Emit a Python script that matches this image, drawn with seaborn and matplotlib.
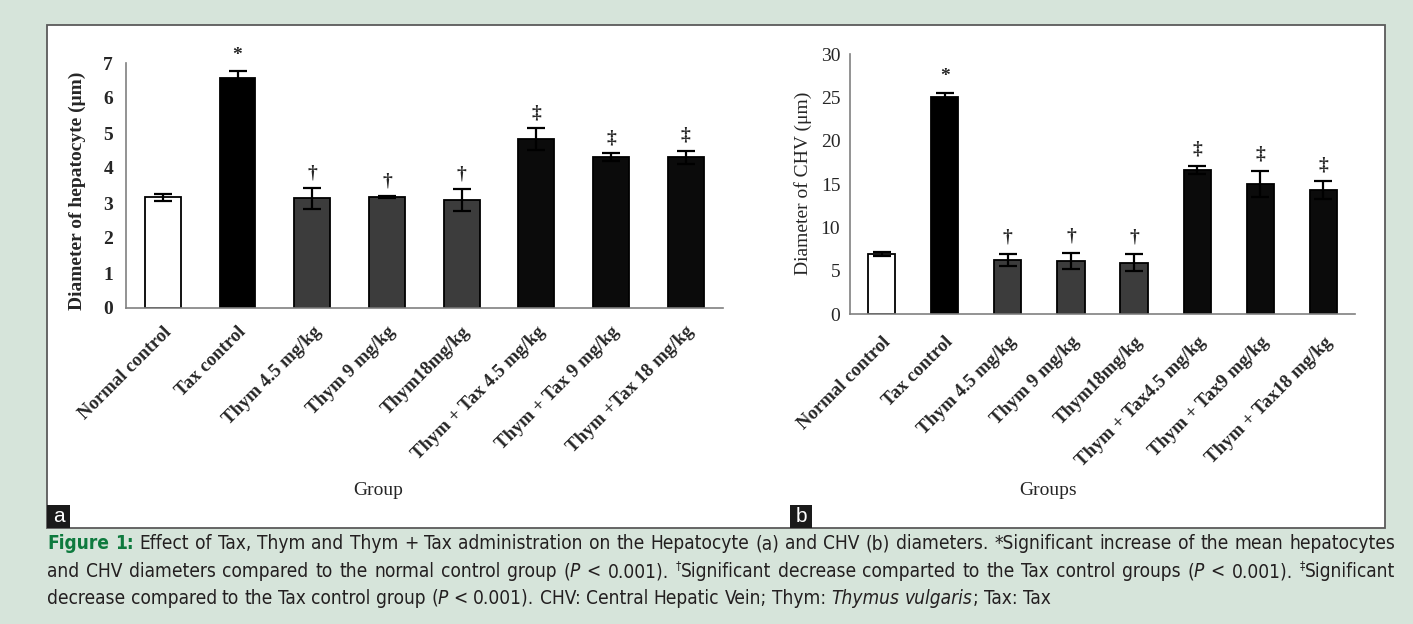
import re
import numpy as np
import matplotlib
matplotlib.use("Agg")
import matplotlib.pyplot as plt
from matplotlib.patches import Rectangle
from matplotlib import font_manager
import seaborn as sns

# data (means and SD bars)
groups_a = ["Normal control", "Tax control", "Thym 4.5 mg/kg", "Thym 9 mg/kg",
            "Thym18mg/kg", "Thym + Tax 4.5 mg/kg", "Thym + Tax 9 mg/kg", "Thym +Tax 18 mg/kg"]
groups_b = ["Normal control", "Tax control", "Thym 4.5 mg/kg", "Thym 9 mg/kg",
            "Thym18mg/kg", "Thym + Tax4.5 mg/kg", "Thym + Tax9 mg/kg", "Thym + Tax18 mg/kg"]
hep_mean = [3.17, 6.56, 3.13, 3.17, 3.09, 4.82, 4.31, 4.31]
hep_sd = [0.10, 0.20, 0.30, 0.03, 0.31, 0.31, 0.11, 0.19]
chv_mean = [6.92, 25.07, 6.27, 6.15, 5.96, 16.65, 15.0, 14.34]
chv_sd = [0.25, 0.45, 0.70, 0.90, 1.00, 0.45, 1.50, 1.00]
marks = ["", "*", "\u2020", "\u2020", "\u2020", "\u2021", "\u2021", "\u2021"]
bar_colors = ["white", "black", "#3c3c3c", "#3c3c3c", "#3c3c3c", "#0b0b0b", "#0b0b0b", "#0b0b0b"]

caption_lines = [
    "[Figure] [1:] Effect of Tax, Thym and Thym + Tax administration on the Hepatocyte (a) and CHV (b) diameters. *Significant increase of the mean hepatocytes",
    "and CHV diameters compared to the normal control group (_P_ < 0.001). ^\u2020^Significant decrease comparted to the Tax control groups (_P_ < 0.001). ^\u2021^Significant",
    "decrease compared to the Tax control group (_P_ < 0.001). CHV: Central Hepatic Vein; Thym: _Thymus_ _vulgaris_; Tax: Tax",
]

W, H = 1413, 624
bg = "#d6e4da"

sns.set_style("white")
plt.rcParams["font.family"] = ["Liberation Serif", "DejaVu Serif"]

fig = plt.figure(figsize=(W / 100, H / 100), dpi=100, facecolor=bg)

# white panel holding both charts (behind the axes)
fig.patches.append(Rectangle((47 / W, 1 - 528 / H), (1385 - 47) / W, (528 - 25) / H,
                             transform=fig.transFigure, facecolor="white",
                             edgecolor="#5a5a5a", linewidth=1.3, zorder=-5))


def bar_panel(ax, names, means, sds, width, ymax, ystep, ylabel, xlabel,
              tick_size, ypad, xpad, yweight, ylab_xy, xlab_xy, mark_off):
    sns.barplot(x=names, y=means, hue=names, palette=bar_colors, width=width,
                saturation=1, edgecolor="black", linewidth=1.3, legend=False, ax=ax)
    ax.errorbar(range(len(names)), means, yerr=sds, fmt="none", ecolor="black",
                elinewidth=1.6, capsize=6.5, capthick=1.6, zorder=5)
    for i, m in enumerate(marks):
        if m:
            ax.annotate(m, (i, means[i] + sds[i]), xytext=(0, mark_off), textcoords="offset points",
                        ha="center", va="bottom", fontsize=14, fontweight="bold",
                        annotation_clip=False)
    ax.set_xlim(-0.5, len(names) - 0.5)
    ax.set_ylim(0, ymax)
    ax.set_yticks(np.arange(0, ymax + 1, ystep))
    ax.set_xticks(range(len(names)))
    ax.set_xticklabels(names, rotation=45, ha="right", rotation_mode="anchor",
                       fontsize=13.5, fontweight="bold")
    ax.tick_params(axis="y", direction="in", length=5, width=1, color="#808080",
                   pad=ypad, labelsize=tick_size)
    ax.tick_params(axis="x", length=0, pad=xpad)
    for lbl in ax.get_yticklabels():
        lbl.set_fontweight(yweight)
    for s in ["top", "right"]:
        ax.spines[s].set_visible(False)
    for s in ["left", "bottom"]:
        ax.spines[s].set_color("#808080")
        ax.spines[s].set_linewidth(1.2)
    ax.set_facecolor("none")
    ax.set_ylabel(ylabel, fontsize=14, fontweight=yweight)
    ax.yaxis.label.set_va("center")
    ax.yaxis.set_label_coords(*ylab_xy)
    ax.set_xlabel(xlabel, fontsize=14)
    ax.xaxis.label.set_va("center")
    ax.xaxis.set_label_coords(*xlab_xy)


ax_a = fig.add_axes([125.5 / W, 1 - 308 / H, 597.5 / W, 245 / H])
bar_panel(ax_a, groups_a, hep_mean, hep_sd, 0.48, 7, 1,
          "Diameter of hepatocyte (\u03bcm)", "Group", 14, 9, 11, "bold",
          (-0.081, 0.48), (0.4226, -0.743), 5)

ax_b = fig.add_axes([850 / W, 1 - 314.3 / H, 505 / W, 260 / H])
bar_panel(ax_b, groups_b, chv_mean, chv_sd, 0.43, 30, 5,
          "Diameter of CHV (\u03bcm)", "Groups", 14, 7, 14, "normal",
          (-0.093, 0.505), (0.392, -0.676), 6)

# panel letters in black boxes
for letter, x0 in [("a", 47.5), ("b", 790)]:
    fig.patches.append(Rectangle((x0 / W, 1 - 528 / H), 22 / W, 23 / H,
                                 transform=fig.transFigure, facecolor="#1a1a1a",
                                 edgecolor="none", zorder=3))
    fig.text((x0 + 11) / W, 1 - 516.5 / H, letter, color="white", fontsize=15,
             family=["Liberation Sans", "DejaVu Sans"], ha="center", va="center", zorder=4)

# caption, justified like the journal layout (condensed face if there is one)
renderer = fig.canvas.get_renderer()
cap_family = ["Liberation Sans", "DejaVu Sans"]
cap_stretch = "normal"
cond = font_manager.findfont(font_manager.FontProperties(family="DejaVu Sans", stretch="condensed"))
if "ondensed" in cond:
    cap_family = ["DejaVu Sans"]
    cap_stretch = "condensed"


def parse_tokens(line):
    toks = []
    for word in line.split(" "):
        pieces = []
        for p in re.split(r"(\[[^\]]*\]|_[^_]*_|\^[^^]*\^)", word):
            if not p:
                continue
            if p[0] == "[":
                pieces.append((p[1:-1], "g"))
            elif p[0] == "_":
                pieces.append((p[1:-1], "i"))
            elif p[0] == "^":
                pieces.append((p[1:-1], "s"))
            else:
                pieces.append((p, "n"))
        toks.append(pieces)
    return toks


def text_kw(kind, fs):
    kw = dict(family=cap_family, fontstretch=cap_stretch, fontsize=fs, color="#231f20",
              va="baseline", ha="left")
    if kind == "i":
        kw["style"] = "italic"
    elif kind == "g":
        kw["fontweight"] = "bold"
        kw["color"] = "#0e7a3e"
    elif kind == "s":
        kw["fontsize"] = fs * 0.62
    return kw


def measure(text, kind, fs):
    t = fig.text(0, 0, text, **text_kw(kind, fs))
    w = t.get_window_extent(renderer).width
    t.remove()
    return w


def token_width(tok, fs):
    return sum(measure(t, k, fs) for t, k in tok)


x_left, x_right = 47, 1395
target = x_right - x_left

fs = 12
space_w = measure("a a", "n", fs) - measure("aa", "n", fs)
tok1 = parse_tokens(caption_lines[0])
natural = sum(token_width(t, fs) for t in tok1) + space_w * (len(tok1) - 1)
fs = fs * target * 0.985 / natural

space_w = measure("a a", "n", fs) - measure("aa", "n", fs)
baselines = [549, 577, 604]
for li, line in enumerate(caption_lines):
    toks = parse_tokens(line)
    widths = [token_width(t, fs) for t in toks]
    if li < 2:
        gap = (target - sum(widths)) / (len(toks) - 1)
    else:
        gap = space_w
    x = x_left
    for tok, w in zip(toks, widths):
        cx = x
        for text, kind in tok:
            yb = baselines[li] - (fs * 0.55 if kind == "s" else 0)
            fig.text(cx / W, 1 - yb / H, text, **text_kw(kind, fs))
            cx += measure(text, kind, fs)
        x += w + gap

fig.savefig("out.png", dpi=100, facecolor=bg)
